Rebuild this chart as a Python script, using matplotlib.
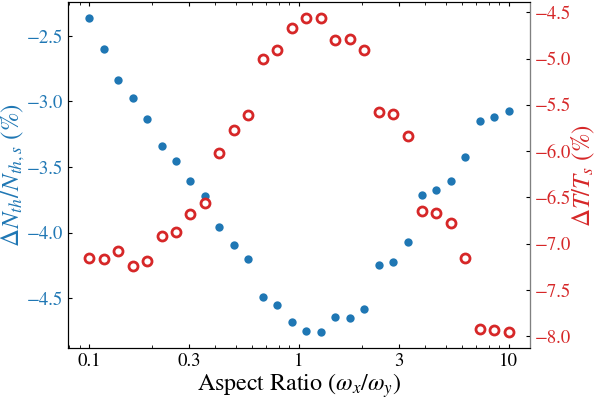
import numpy as np
import matplotlib
matplotlib.use("Agg")
import matplotlib.pyplot as plt
from matplotlib.ticker import FixedLocator, FixedFormatter, NullFormatter

plt.rcParams['font.family'] = ['STIXGeneral', 'DejaVu Serif']
plt.rcParams['mathtext.fontset'] = 'stix'

# aspect ratio values (log spaced 0.1 .. 10, 30 points)
aspect = [0.1, 0.1172, 0.1374, 0.1610, 0.1887, 0.2212, 0.2593, 0.3039, 0.3562, 0.4175,
          0.4894, 0.5736, 0.6723, 0.7881, 0.9237, 1.0826, 1.2690, 1.4874, 1.7433, 2.0434,
          2.3950, 2.8072, 3.2903, 3.8566, 4.5204, 5.2983, 6.2102, 7.2790, 8.5317, 10.0]

# threshold atom number change (%)
dN = [-2.361, -2.601, -2.838, -2.972, -3.135, -3.343, -3.452, -3.610, -3.719, -3.960,
      -4.097, -4.204, -4.493, -4.554, -4.683, -4.749, -4.760, -4.645, -4.648, -4.582,
      -4.249, -4.227, -4.069, -3.711, -3.675, -3.610, -3.422, -3.147, -3.115, -3.069]

# temperature change (%)
dT = [-7.158, -7.161, -7.083, -7.240, -7.183, -6.913, -6.878, -6.676, -6.565, -6.015,
      -5.770, -5.608, -5.004, -4.903, -4.666, -4.558, -4.558, -4.802, -4.791, -4.910,
      -5.575, -5.594, -5.838, -6.651, -6.665, -6.773, -7.158, -7.916, -7.930, -7.956]

xticks = [0.1, 0.3, 1, 3, 10]
xtick_labels = ['0.1', '0.3', '1', '3', '10']

blue = '#1f77b4'
red = '#d62728'

fig, ax = plt.subplots(figsize=(5.98, 3.99), dpi=100)
fig.subplots_adjust(left=0.114, right=0.886, bottom=0.128, top=0.995)

ax.plot(aspect, dN, 'o', color=blue, markersize=6, markeredgewidth=0)
ax.set_xscale('log')
ax.xaxis.set_major_locator(FixedLocator(xticks))
ax.xaxis.set_major_formatter(FixedFormatter(xtick_labels))
ax.xaxis.set_minor_formatter(NullFormatter())
ax.set_xlabel(r'Aspect Ratio ($\omega_x/\omega_y$)', fontsize=17.3, labelpad=1)
ax.set_ylabel(r'$\Delta N_{th}/N_{th,s}$ (%)', color=blue, fontsize=18, labelpad=0)
ax.tick_params(axis='x', which='both', labelsize=13.5, direction='in', top=True,
               colors='black', length=3)
ax.tick_params(axis='x', which='minor', length=2)
ax.tick_params(axis='y', labelcolor=blue, labelsize=13.5, direction='in', length=3, color='black')

ax2 = ax.twinx()
ax2.plot(aspect, dT, 'o', markerfacecolor='white', markeredgecolor=red,
         markersize=6.5, markeredgewidth=2)
ax2.set_ylabel(r'$\Delta T/T_s$ (%)', color=red, fontsize=18, labelpad=-1)
ax2.tick_params(axis='y', labelcolor=red, labelsize=13.5, direction='in', length=3, color='black')
ax2.spines['right'].set_color('gray')
ax.set_yticks([-4.5, -4.0, -3.5, -3.0, -2.5])
ax2.set_yticks([-8.0, -7.5, -7.0, -6.5, -6.0, -5.5, -5.0, -4.5])

fig.savefig('out.png', dpi=100)
